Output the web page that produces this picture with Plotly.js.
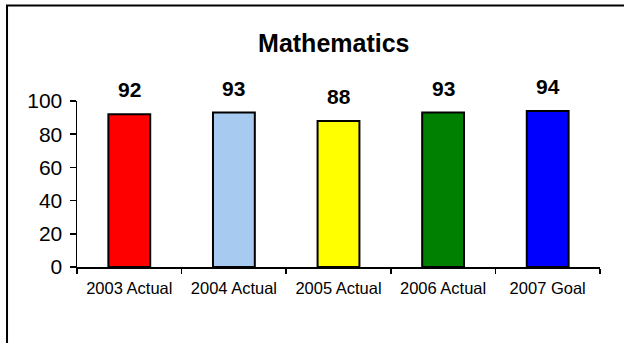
<!DOCTYPE html>
<html>
<head>
<meta charset="utf-8">
<script src="https://cdn.plot.ly/plotly-3.0.1.min.js"></script>
<style>
  html, body { margin: 0; padding: 0; background: #fff; }
  #chart { width: 624px; height: 343px; }
</style>
</head>
<body>
<div id="chart"></div>
<script>
// Mathematics scores by year
const categories = ['2003 Actual', '2004 Actual', '2005 Actual', '2006 Actual', '2007 Goal'];
const scores = [92, 93, 88, 93, 94];
const barColors = ['#FF0000', '#A6CAF0', '#FFFF00', '#008000', '#0000FF'];
const yTicks = [0, 20, 40, 60, 80, 100];

const FONT = 'Arial, "Liberation Sans", sans-serif';

const trace = {
  type: 'bar',
  x: categories,
  y: scores,
  marker: { color: barColors, line: { color: '#000', width: 2 } },
  hoverinfo: 'none'
};

// value labels floating above each bar
const valueLabels = categories.map((c, i) => ({
  x: c,
  y: scores[i],
  xref: 'x',
  yref: 'y',
  text: '<b>' + scores[i] + '</b>',
  showarrow: false,
  yanchor: 'bottom',
  yshift: 11,
  font: { family: FONT, size: 21, color: '#000' }
}));

const layout = {
  width: 624,
  height: 343,
  margin: { l: 77, r: 24, t: 101, b: 76 },
  paper_bgcolor: '#fff',
  plot_bgcolor: '#fff',
  showlegend: false,
  bargap: 0.6,
  title: {
    text: '<b>Mathematics</b>',
    font: { family: FONT, size: 25, color: '#000' },
    xref: 'paper',
    x: 0.491,
    xanchor: 'center',
    yref: 'container',
    y: 1 - 43 / 343,
    yanchor: 'middle'
  },
  xaxis: {
    type: 'category',
    tickson: 'boundaries',
    ticks: 'outside',
    ticklen: 5,
    tickwidth: 1.5,
    tickcolor: '#000',
    showline: true,
    linecolor: '#000',
    linewidth: 1.5,
    showgrid: false,
    zeroline: false,
    tickfont: { family: FONT, size: 16.5, color: '#000' },
    ticklabelstandoff: 6
  },
  yaxis: {
    range: [0, 100],
    tickvals: yTicks,
    ticktext: yTicks.map(String),
    ticks: 'outside',
    ticklen: 6,
    tickwidth: 1.5,
    tickcolor: '#000',
    showline: true,
    linecolor: '#000',
    linewidth: 1.5,
    showgrid: false,
    zeroline: false,
    tickfont: { family: FONT, size: 21, color: '#000' },
    ticklabelstandoff: 3
  },
  annotations: valueLabels,
  shapes: [{
    type: 'path',
    xref: 'paper',
    yref: 'paper',
    path: 'M -0.1338,-0.6 L -0.1338,1.5753 L 1.08,1.5753',
    line: { color: '#000', width: 2 }
  }]
};

Plotly.newPlot('chart', [trace], layout, { displayModeBar: false, staticPlot: true });
</script>
</body>
</html>
